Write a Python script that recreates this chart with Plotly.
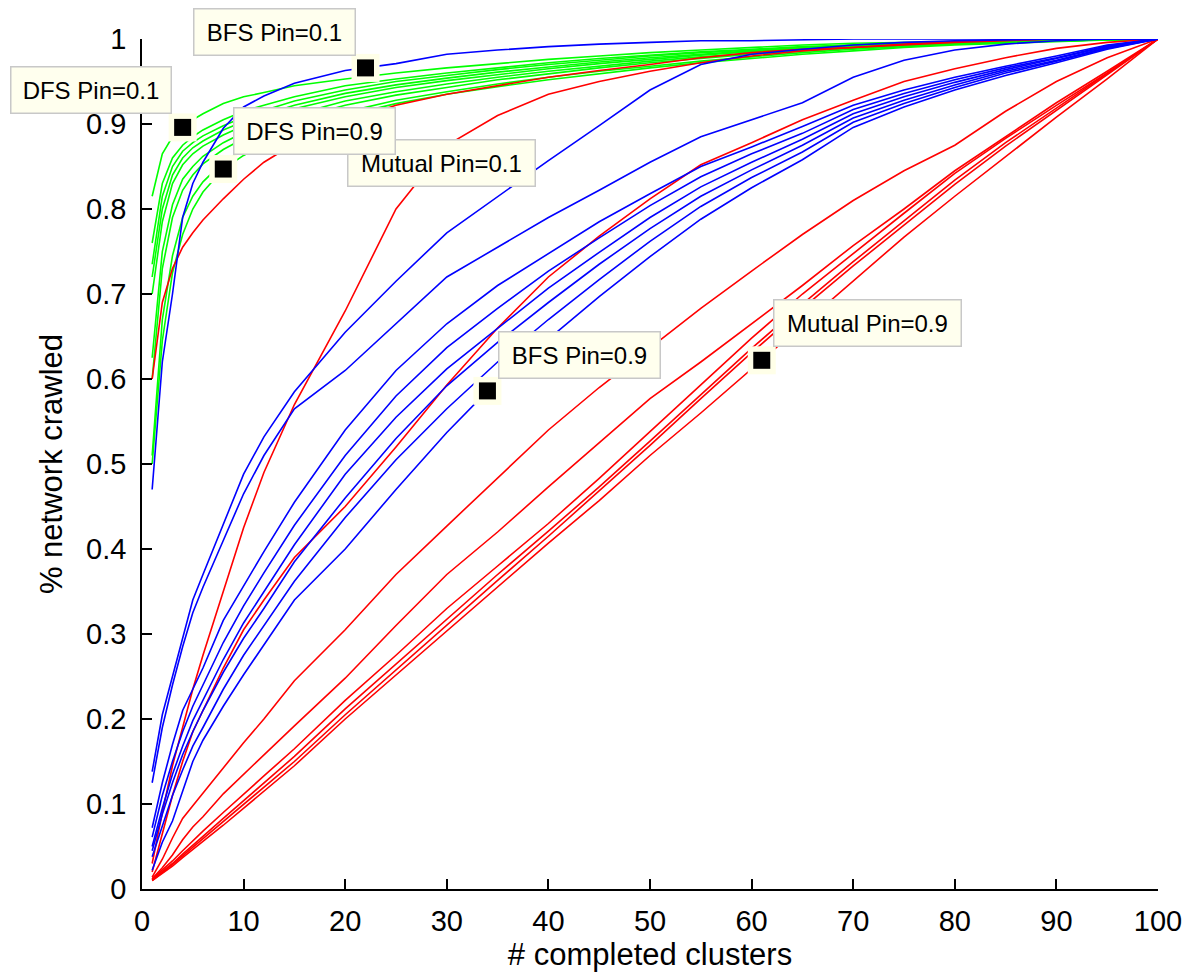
import plotly.graph_objects as go

# x positions (# completed clusters) at which values were read
clusters = [1, 2, 3, 4, 5, 6, 8, 10, 12, 15, 20, 25, 30, 35, 40, 45, 50, 55, 60, 65, 70, 75, 80, 85, 90, 95, 100]

# DFS (green)
dfs_01 = [0.815, 0.865, 0.885, 0.896, 0.905, 0.912, 0.924, 0.932, 0.937, 0.945, 0.953, 0.960, 0.966, 0.971, 0.976, 0.980, 0.984, 0.987, 0.990, 0.993, 0.995, 0.996, 0.997, 0.998, 0.999, 1.0, 1.0]
dfs_02 = [0.76, 0.83, 0.86, 0.875, 0.885, 0.893, 0.905, 0.915, 0.922, 0.932, 0.945, 0.953, 0.960, 0.966, 0.972, 0.977, 0.981, 0.985, 0.988, 0.991, 0.993, 0.995, 0.996, 0.997, 0.998, 0.999, 1.0]
dfs_03 = [0.735, 0.815, 0.85, 0.868, 0.878, 0.886, 0.898, 0.908, 0.916, 0.927, 0.94, 0.95, 0.957, 0.964, 0.97, 0.975, 0.98, 0.984, 0.987, 0.99, 0.993, 0.995, 0.996, 0.997, 0.998, 0.999, 1.0]
dfs_04 = [0.72, 0.80, 0.84, 0.86, 0.872, 0.88, 0.893, 0.903, 0.911, 0.922, 0.936, 0.946, 0.954, 0.961, 0.967, 0.973, 0.978, 0.982, 0.986, 0.989, 0.992, 0.994, 0.996, 0.997, 0.998, 0.999, 1.0]
dfs_05 = [0.70, 0.785, 0.83, 0.852, 0.865, 0.874, 0.887, 0.898, 0.906, 0.918, 0.932, 0.943, 0.951, 0.958, 0.965, 0.971, 0.976, 0.981, 0.985, 0.988, 0.991, 0.994, 0.995, 0.997, 0.998, 0.999, 1.0]
dfs_06 = [0.625, 0.75, 0.805, 0.835, 0.85, 0.862, 0.878, 0.89, 0.899, 0.911, 0.927, 0.938, 0.947, 0.955, 0.962, 0.968, 0.974, 0.979, 0.983, 0.987, 0.99, 0.993, 0.995, 0.996, 0.998, 0.999, 1.0]
dfs_07 = [0.60, 0.73, 0.79, 0.822, 0.84, 0.853, 0.87, 0.883, 0.893, 0.906, 0.922, 0.934, 0.943, 0.952, 0.959, 0.966, 0.972, 0.977, 0.982, 0.986, 0.989, 0.992, 0.994, 0.996, 0.998, 0.999, 1.0]
dfs_08 = [0.51, 0.67, 0.745, 0.79, 0.815, 0.832, 0.855, 0.87, 0.881, 0.896, 0.914, 0.928, 0.938, 0.947, 0.955, 0.962, 0.968, 0.974, 0.979, 0.984, 0.988, 0.991, 0.994, 0.996, 0.998, 0.999, 1.0]
dfs_09 = [0.50, 0.645, 0.725, 0.77, 0.80, 0.82, 0.847, 0.863, 0.876, 0.891, 0.91, 0.924, 0.935, 0.944, 0.952, 0.959, 0.966, 0.972, 0.977, 0.982, 0.986, 0.99, 0.993, 0.995, 0.997, 0.999, 1.0]

# BFS (blue)
bfs_01 = [0.47, 0.62, 0.70, 0.79, 0.83, 0.855, 0.895, 0.92, 0.933, 0.948, 0.963, 0.971, 0.982, 0.987, 0.991, 0.994, 0.996, 0.998, 0.998, 0.999, 1.0, 1.0, 1.0, 1.0, 1.0, 1.0, 1.0]
bfs_02 = [0.138, 0.205, 0.25, 0.295, 0.34, 0.37, 0.43, 0.488, 0.532, 0.585, 0.655, 0.715, 0.772, 0.815, 0.857, 0.898, 0.94, 0.97, 0.982, 0.988, 0.993, 0.996, 0.998, 0.999, 1.0, 1.0, 1.0]
bfs_03 = [0.125, 0.19, 0.24, 0.285, 0.325, 0.355, 0.41, 0.465, 0.51, 0.565, 0.61, 0.665, 0.72, 0.755, 0.79, 0.822, 0.855, 0.885, 0.905, 0.925, 0.955, 0.975, 0.987, 0.994, 0.998, 1.0, 1.0]
bfs_04 = [0.072, 0.125, 0.17, 0.21, 0.235, 0.26, 0.316, 0.357, 0.397, 0.455, 0.54, 0.61, 0.665, 0.71, 0.748, 0.785, 0.818, 0.85, 0.873, 0.897, 0.922, 0.94, 0.955, 0.968, 0.98, 0.993, 1.0]
bfs_05 = [0.061, 0.11, 0.15, 0.185, 0.215, 0.24, 0.29, 0.333, 0.372, 0.428, 0.51, 0.58, 0.637, 0.683, 0.727, 0.766, 0.804, 0.838, 0.865, 0.889, 0.917, 0.936, 0.952, 0.966, 0.978, 0.992, 1.0]
bfs_06 = [0.05, 0.095, 0.135, 0.168, 0.198, 0.222, 0.27, 0.313, 0.35, 0.405, 0.488, 0.555, 0.612, 0.66, 0.707, 0.749, 0.79, 0.826, 0.855, 0.882, 0.912, 0.932, 0.949, 0.964, 0.977, 0.991, 1.0]
bfs_07 = [0.045, 0.088, 0.125, 0.158, 0.185, 0.21, 0.255, 0.295, 0.33, 0.385, 0.46, 0.53, 0.592, 0.643, 0.69, 0.735, 0.777, 0.815, 0.846, 0.875, 0.907, 0.928, 0.946, 0.962, 0.975, 0.99, 1.0]
bfs_08 = [0.038, 0.075, 0.11, 0.14, 0.168, 0.19, 0.235, 0.275, 0.31, 0.362, 0.437, 0.505, 0.565, 0.62, 0.67, 0.717, 0.762, 0.803, 0.837, 0.867, 0.902, 0.924, 0.943, 0.96, 0.974, 0.989, 1.0]
bfs_09 = [0.022, 0.055, 0.08, 0.115, 0.15, 0.175, 0.215, 0.252, 0.287, 0.34, 0.40, 0.47, 0.537, 0.598, 0.647, 0.697, 0.744, 0.788, 0.825, 0.858, 0.896, 0.92, 0.94, 0.957, 0.972, 0.988, 1.0]

# Mutual (red)
mut_01 = [0.60, 0.69, 0.73, 0.755, 0.772, 0.787, 0.812, 0.835, 0.855, 0.877, 0.903, 0.922, 0.935, 0.945, 0.955, 0.963, 0.97, 0.978, 0.984, 0.988, 0.99, 0.993, 0.996, 0.998, 1.0, 1.0, 1.0]
mut_02 = [0.03, 0.09, 0.145, 0.19, 0.235, 0.275, 0.35, 0.425, 0.49, 0.57, 0.68, 0.80, 0.875, 0.91, 0.935, 0.95, 0.962, 0.972, 0.98, 0.986, 0.99, 0.994, 0.997, 0.999, 1.0, 1.0, 1.0]
mut_03 = [0.02, 0.065, 0.11, 0.15, 0.185, 0.21, 0.26, 0.305, 0.34, 0.39, 0.45, 0.52, 0.593, 0.66, 0.72, 0.768, 0.812, 0.852, 0.878, 0.905, 0.928, 0.95, 0.965, 0.978, 0.989, 0.996, 1.0]
mut_04 = [0.014, 0.035, 0.06, 0.083, 0.098, 0.113, 0.142, 0.172, 0.20, 0.245, 0.305, 0.37, 0.427, 0.484, 0.54, 0.59, 0.637, 0.683, 0.727, 0.77, 0.81, 0.845, 0.875, 0.915, 0.95, 0.978, 1.0]
mut_05 = [0.012, 0.025, 0.04, 0.058, 0.073, 0.085, 0.112, 0.135, 0.158, 0.192, 0.248, 0.31, 0.37, 0.42, 0.473, 0.525, 0.577, 0.62, 0.665, 0.71, 0.757, 0.80, 0.845, 0.885, 0.925, 0.962, 1.0]
mut_06 = [0.012, 0.022, 0.033, 0.045, 0.057, 0.068, 0.09, 0.112, 0.133, 0.165, 0.222, 0.275, 0.33, 0.38, 0.43, 0.483, 0.538, 0.593, 0.648, 0.70, 0.748, 0.795, 0.842, 0.883, 0.922, 0.96, 1.0]
mut_07 = [0.011, 0.02, 0.03, 0.041, 0.052, 0.062, 0.083, 0.104, 0.124, 0.156, 0.212, 0.265, 0.318, 0.37, 0.421, 0.473, 0.527, 0.582, 0.636, 0.688, 0.738, 0.786, 0.834, 0.878, 0.919, 0.959, 1.0]
mut_08 = [0.01, 0.019, 0.029, 0.039, 0.049, 0.059, 0.079, 0.099, 0.119, 0.15, 0.205, 0.258, 0.31, 0.363, 0.415, 0.468, 0.522, 0.577, 0.631, 0.683, 0.733, 0.781, 0.829, 0.874, 0.916, 0.957, 1.0]
mut_09 = [0.01, 0.018, 0.027, 0.037, 0.046, 0.056, 0.075, 0.095, 0.115, 0.145, 0.20, 0.252, 0.303, 0.355, 0.407, 0.457, 0.51, 0.56, 0.612, 0.664, 0.715, 0.767, 0.815, 0.862, 0.908, 0.953, 1.0]

# data tips
tip_labels = ["Mutual Pin=0.1", "BFS Pin=0.1", "DFS Pin=0.1", "DFS Pin=0.9", "BFS Pin=0.9", "Mutual Pin=0.9"]
tip_x = [19, 22, 4, 8, 34, 61]
tip_y = [0.898, 0.966, 0.896, 0.847, 0.586, 0.622]

x_ticks = [0, 10, 20, 30, 40, 50, 60, 70, 80, 90, 100]
y_ticks = [0, 0.1, 0.2, 0.3, 0.4, 0.5, 0.6, 0.7, 0.8, 0.9, 1]

FONT = "Liberation Sans, Arial, Helvetica, sans-serif"
LW = 1.6

fig = go.Figure()

groups = [
    ("#00FF00", [dfs_01, dfs_02, dfs_03, dfs_04, dfs_05, dfs_06, dfs_07, dfs_08, dfs_09], "DFS"),
    ("#FF0000", [mut_01, mut_02, mut_03, mut_04, mut_05, mut_06, mut_07, mut_08, mut_09], "Mutual"),
    ("#0000FF", [bfs_01, bfs_02, bfs_03, bfs_04, bfs_05, bfs_06, bfs_07, bfs_08, bfs_09], "BFS"),
]
for color, series, name in groups:
    for i, ys in enumerate(series):
        fig.add_trace(go.Scatter(
            x=clusters, y=ys, mode="lines",
            line=dict(color=color, width=LW),
            name=f"{name} Pin=0.{i+1}", showlegend=False, hoverinfo="skip",
        ))

# data-tip markers: cream halo + black square
fig.add_trace(go.Scatter(x=tip_x, y=tip_y, mode="markers",
                         marker=dict(symbol="square", size=28, color="rgb(255,255,232)", line=dict(width=0)),
                         showlegend=False, hoverinfo="skip", cliponaxis=False))
fig.add_trace(go.Scatter(x=tip_x, y=tip_y, mode="markers",
                         marker=dict(symbol="square", size=17, color="black", line=dict(width=0)),
                         showlegend=False, hoverinfo="skip", cliponaxis=False))

# annotation boxes (anchor corner in data coordinates)
box_specs = [
    # label, x, y, xanchor, yanchor, width
    ("Mutual Pin=0.1", 20.18, 0.826, "left", "bottom", 189),
    ("BFS Pin=0.1", 21.06, 0.980, "right", "bottom", 163),
    ("DFS Pin=0.1", 2.95, 0.912, "right", "bottom", 162),
    ("DFS Pin=0.9", 8.96, 0.8635, "left", "bottom", 163),
    ("BFS Pin=0.9", 35.04, 0.600, "left", "bottom", 163),
    ("Mutual Pin=0.9", 62.1, 0.6376, "left", "bottom", 189),
]
BW = 1.5
for label, ax_, ay_, xa, ya, w in box_specs:
    fig.add_annotation(
        x=ax_, y=ay_, xref="x", yref="y", text=label, showarrow=False,
        xanchor=xa, yanchor=ya,
        font=dict(family=FONT, size=24, color="black"),
        bgcolor="rgb(255,255,238)", bordercolor="rgb(200,200,200)", borderwidth=BW,
        borderpad=0, width=w - 2 * BW, height=48 - 2 * BW, align="center", valign="middle",
    )

axis_common = dict(
    showline=True, linecolor="black", linewidth=1.5, mirror=False,
    ticks="inside", ticklen=10, tickwidth=1.5, tickcolor="black",
    showgrid=False, zeroline=False,
    tickfont=dict(family=FONT, size=29, color="black"),
)

fig.update_xaxes(range=[0, 100], tickvals=x_ticks, ticktext=[str(v) for v in x_ticks],
                 title=dict(text="# completed clusters", font=dict(family=FONT, size=31, color="black"), standoff=2),
                 ticklabelstandoff=5, **axis_common)
fig.update_yaxes(range=[0, 1], tickvals=y_ticks, ticktext=[f"{v:g}" for v in y_ticks],
                 title=dict(text="% network crawled", font=dict(family=FONT, size=31, color="black"), standoff=14),
                 ticklabelstandoff=8, **axis_common)

fig.update_layout(
    width=1196, height=973,
    margin=dict(l=142, r=38, t=39, b=84),
    paper_bgcolor="white", plot_bgcolor="white",
    showlegend=False,
)

fig.write_html("out.html")
